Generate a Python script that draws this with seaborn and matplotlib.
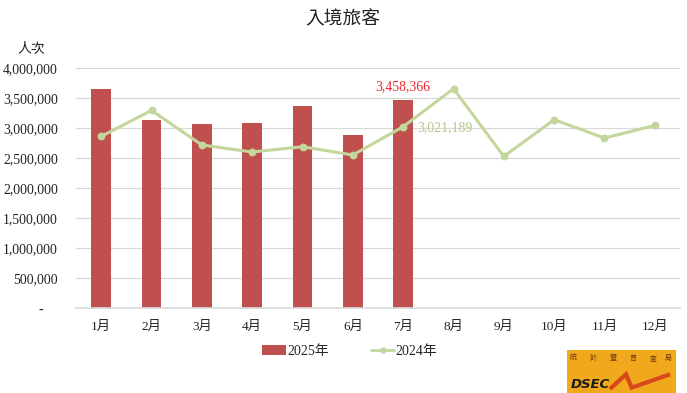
import matplotlib
matplotlib.use("Agg")
import matplotlib.pyplot as plt
import seaborn as sns
import pandas as pd
import numpy as np
from matplotlib.patches import Patch, Rectangle
from matplotlib.lines import Line2D

months = ["1月", "2月", "3月", "4月", "5月", "6月", "7月", "8月", "9月", "10月", "11月", "12月"]
visitors_2025 = [3650000, 3140000, 3067000, 3088000, 3372000, 2888000, 3458366]
visitors_2024 = [2860000, 3293000, 2717000, 2600000, 2688000, 2550000, 3021189,
                 3655000, 2527000, 3138000, 2833000, 3043000]
yticks = [0, 500000, 1000000, 1500000, 2000000, 2500000, 3000000, 3500000, 4000000]

sns.set_theme(style="white")
plt.rcParams['font.family'] = ['Liberation Serif', 'Noto Sans CJK TC', 'DejaVu Sans']

BAR = "#C0504D"
LINE = "#C3D69B"

fig = plt.figure(figsize=(6.87, 3.93), dpi=100)
ax = fig.add_axes([76/687, 1-308/393, (680-76)/687, (308-68)/393])

df25 = pd.DataFrame({"month": months[:len(visitors_2025)], "v": visitors_2025})
df24 = pd.DataFrame({"month": months, "v": visitors_2024})

sns.barplot(data=df25, x="month", y="v", order=months, color=BAR, saturation=1,
            width=0.39, ax=ax, errorbar=None, linewidth=0)
sns.pointplot(data=df24, x="month", y="v", order=months, color=LINE, ax=ax,
              errorbar=None, markers="o", markersize=4, linewidth=2.2)

ax.set_ylim(0, 4000000)
ax.set_xlim(-0.5, 11.5)
ax.set_yticks(yticks)
ax.set_yticklabels(["-    " if t == 0 else f"{t:,}" for t in yticks])
ax.set_xlabel("")
ax.set_ylabel("")
ax.grid(axis="y", color="#D9D9D9", linewidth=0.9)
ax.set_axisbelow(True)
for s in ["left", "right", "top"]:
    ax.spines[s].set_visible(False)
ax.spines["bottom"].set_color("#D9D9D9")
ax.tick_params(axis="y", length=0, pad=13, labelsize=9.9, colors="#222222")
ax.tick_params(axis="x", length=0, pad=9, labelsize=9.5, colors="#222222")

ax.annotate(f"{visitors_2025[6]:,}", xy=(6, visitors_2025[6]), xytext=(0, 5),
            textcoords="offset points", ha="center", va="bottom",
            color="#E8292E", fontsize=10)
ax.annotate(f"{visitors_2024[6]:,}", xy=(6, visitors_2024[6]), xytext=(10, -1),
            textcoords="offset points", ha="left", va="center",
            color="#B4C88A", fontsize=10)

fig.text(343/687, 1-20/393, "入境旅客", ha="center", va="center", fontsize=13.5, color="#222222")
fig.text(31/687, 1-49/393, "人次", ha="center", va="center", fontsize=10, color="#222222")

handles = [Patch(facecolor=BAR, edgecolor="none"),
           Line2D([0], [0], color=LINE, lw=2, marker="o", markersize=3.5)]
fig.legend(handles, ["2025年", "2024年"], loc="center", bbox_to_anchor=(350/687, 1-351/393),
           ncol=2, frameon=False, fontsize=10, handlelength=1.7, handletextpad=0.1,
           columnspacing=3.0)

# DSEC logo
lax = fig.add_axes([567/687, 0, 109/687, 43/393])
lax.set_xlim(0, 109)
lax.set_ylim(0, 43)
lax.axis("off")
lax.add_patch(Rectangle((0, 0), 109, 43, facecolor="#F0A81C", edgecolor="none"))
lax.plot([43, 59, 64.7, 103], [4, 18.7, 5.3, 18.7], color="#D9471C", lw=3,
         solid_joinstyle="miter", solid_capstyle="butt")
lax.text(4, 9, "DSEC", fontsize=9.5, fontweight="bold", style="italic",
         color="#1A1A1A", family="DejaVu Sans", va="center", ha="left")
for x, ch in zip([6, 26, 46, 66, 86, 101], "統計暨普查局"):
    lax.text(x, 35, ch, fontsize=5, color="#6B3A10", ha="center", va="center",
             family=["Noto Sans CJK TC"])

fig.savefig("out.png", dpi=100)
